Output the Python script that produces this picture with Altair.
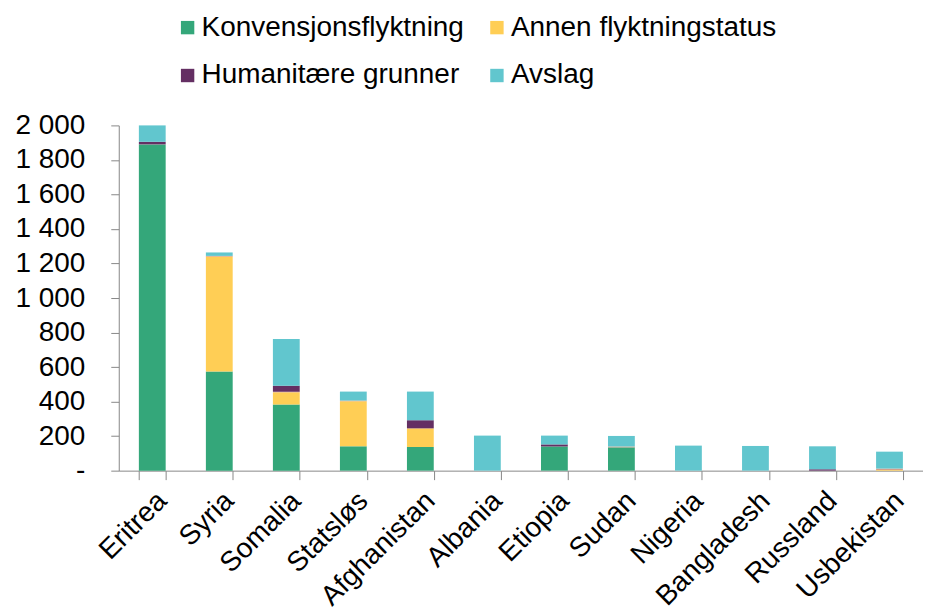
import altair as alt
import pandas as pd

countries = ["Eritrea", "Syria", "Somalia", "Statsløs", "Afghanistan", "Albania",
             "Etiopia", "Sudan", "Nigeria", "Bangladesh", "Russland", "Usbekistan"]
konv = [1890, 575, 383, 141, 137, 0, 140, 135, 0, 0, 0, 0]
annen = [0, 665, 71, 261, 108, 0, 0, 0, 0, 0, 0, 4]
annet = [0, 4, 3, 4, 0, 0, 0, 5, 0, 0, 0, 8]
hum = [15, 0, 35, 0, 47, 0, 12, 0, 0, 0, 8, 0]
avslag = [95, 20, 271, 52, 166, 203, 51, 61, 145, 143, 133, 98]

series = ["Konvensjonsflyktning", "Annen flyktningstatus", "Annet",
          "Humanitære grunner", "Avslag"]
colors = ["#34A77A", "#FFCE55", "#D59A86", "#642F63", "#61C6CE"]
legend_items = ["Konvensjonsflyktning", "Annen flyktningstatus",
                "Humanitære grunner", "Avslag"]

rows = []
for i, c in enumerate(countries):
    for k, (name, vals) in enumerate(zip(series, [konv, annen, annet, hum, avslag])):
        rows.append({"land": c, "serie": name, "verdi": vals[i], "rekke": k})
df = pd.DataFrame(rows)

FONT = "Liberation Sans"
FS = 28

chart = alt.Chart(df).mark_bar().encode(
    x=alt.X("land:N", sort=countries, title=None,
            scale=alt.Scale(paddingInner=0.6, paddingOuter=0.3),
            axis=alt.Axis(labelAngle=-45, labelFontSize=FS, labelFont=FONT,
                          labelColor="#000000", tickBand="extent", tickSize=9,
                          tickColor="#888888", domainColor="#888888",
                          labelPadding=7, labelLimit=0)),
    y=alt.Y("verdi:Q", title=None, stack="zero",
            scale=alt.Scale(domain=[0, 2000]),
            axis=alt.Axis(values=list(range(0, 2001, 200)), grid=False,
                          labelFontSize=FS, labelFont=FONT, labelColor="#000000",
                          labelPadding=26, tickSize=8, tickColor="#888888",
                          domainColor="#888888",
                          labelExpr="datum.value == 0 ? '-' : (datum.value >= 1000 ? floor(datum.value/1000) + ' ' + substring(toString(1000 + datum.value % 1000), 1) : toString(datum.value))")),
    color=alt.Color("serie:N", scale=alt.Scale(domain=series, range=colors),
                    legend=alt.Legend(values=legend_items, title=None, orient="none",
                                      legendX=55, legendY=-112, direction="horizontal",
                                      columns=2, symbolType="square", symbolSize=180,
                                      symbolStrokeWidth=0, labelFontSize=FS,
                                      labelFont=FONT, labelColor="#000000",
                                      labelOffset=0, rowPadding=20, columnPadding=18,
                                      labelLimit=0, padding=0)),
    order=alt.Order("rekke:Q"),
).properties(
    width=806, height=346, padding={"left": 6, "top": 5, "right": 0, "bottom": 0}
).configure_view(stroke=None)

chart.save("out.html", embed_options={"renderer": "svg", "actions": False})
